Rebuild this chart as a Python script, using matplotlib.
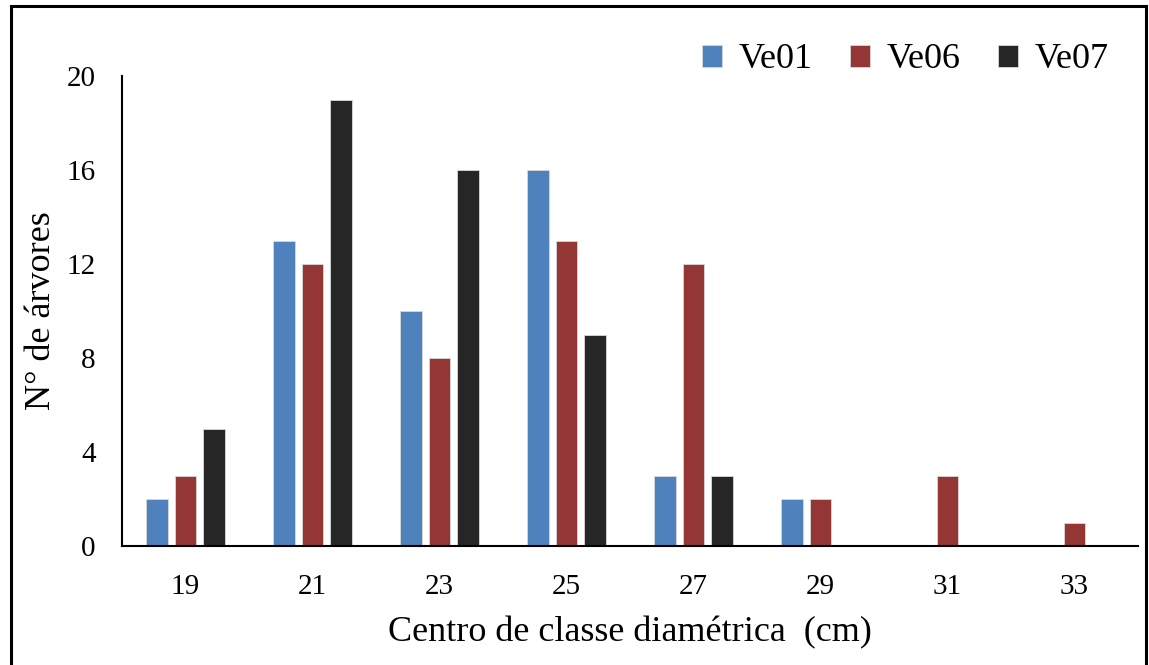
import numpy as np
import matplotlib.pyplot as plt
from matplotlib.patches import Rectangle

# Diameter class centres and tree counts per plot
classes = ['19', '21', '23', '25', '27', '29', '31', '33']
ve01 = [2, 13, 10, 16, 3, 2, 0, 0]
ve06 = [3, 12, 8, 13, 12, 2, 3, 1]
ve07 = [5, 19, 16, 9, 3, 0, 0, 0]

plt.rcParams['font.family'] = ['Liberation Serif', 'DejaVu Serif']

fig = plt.figure(figsize=(11.49, 6.65), dpi=100)
ax = fig.add_axes([122 / 1149, 119 / 665, 1016 / 1149, 470 / 665])

x = np.arange(len(classes))
w = 0.225
bw = 0.17
series = [('Ve01', ve01, '#4F81BD'), ('Ve06', ve06, '#943634'), ('Ve07', ve07, '#262626')]
for i, (name, vals, col) in enumerate(series):
    ax.bar(x + (i - 1) * w, vals, bw, color=col, label=name,
           edgecolor='#d9d9d9', linewidth=0.6)

ax.set_xlim(-0.5, len(classes) - 0.5)
ax.set_ylim(0, 20)
ax.set_yticks([0, 4, 8, 12, 16, 20])
ax.set_xticks(x)
ax.set_xticklabels(classes)
ax.tick_params(length=0, labelsize=21)
ax.tick_params(axis='x', pad=20)
ax.tick_params(axis='y', pad=19)

for s in ['top', 'right']:
    ax.spines[s].set_visible(False)
for s in ['left', 'bottom']:
    ax.spines[s].set_linewidth(1.5)

ax.set_ylabel('N° de árvores', fontsize=26)
ax.yaxis.set_label_coords(-64 / 1016, 0.5)
ax.set_xlabel('Centro de classe diamétrica  (cm)', fontsize=26, labelpad=12)

leg = fig.legend(loc='upper right', bbox_to_anchor=(1141 / 1149, 1 - 11 / 665),
                 ncol=3, frameon=False, fontsize=26, handlelength=0.55,
                 handleheight=0.55, handletextpad=0.45, columnspacing=1.05)

# outer frame
fig.patches.append(Rectangle((11 / 1149, -0.05), 1135 / 1149, 1.05 - 6 / 665,
                             transform=fig.transFigure, fill=False,
                             edgecolor='black', linewidth=2.2))

fig.savefig('out.png', dpi=100)
